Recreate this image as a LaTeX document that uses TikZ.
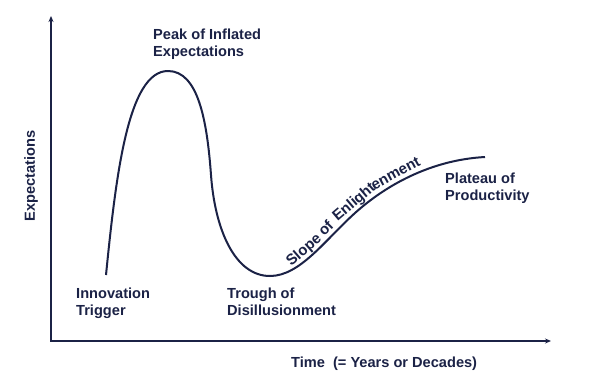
\documentclass[tikz,border=0pt]{standalone}
\usepackage{fontspec}
\setmainfont{Liberation Sans}
\usetikzlibrary{arrows.meta}
\definecolor{navy}{HTML}{1B2246}
\begin{document}
\begin{tikzpicture}[x=1pt,y=-1pt,
  lbl/.style={font=\fontsize{14.6}{17.5}\selectfont\bfseries, text=navy, inner sep=0pt, align=left, anchor=north west},
  slopelbl/.style={font=\fontsize{15}{17}\selectfont\bfseries, text=navy, sloped, anchor=south, inner xsep=0pt, inner ysep=1pt, text depth=3.3pt, text height=11pt},
  axis/.style={draw=navy, line width=1.8pt, {Stealth[length=6pt,width=5pt]}-{Stealth[length=6pt,width=5pt]}},
  curve/.style={draw=navy, line width=2pt}]
\useasboundingbox[fill=white] (0,0) rectangle (612,373);
\coordinate (O) at (51,341);
\coordinate (Ytop) at (51,16);
\coordinate (Xend) at (551,341);
\draw[axis] (Ytop) -- (O) -- (Xend);
\coordinate (start) at (106,275);
\coordinate (peak) at (168,71);
\coordinate (fall) at (211,175);
\coordinate (trough) at (270,276);
\coordinate (mid) at (355,213);
\coordinate (end) at (485,157);
\draw[curve] (start) .. controls (116,175) and (128,71) .. (peak)
  .. controls (198,71) and (207,120) .. (fall)
  .. controls (215,230) and (235,276) .. (trough)
  .. controls (300,276) and (325,240) .. (mid)
  .. controls (385,186) and (430,160) .. (end);
\path (trough) .. controls (300,276) and (325,240) .. (mid)
  node[slopelbl, pos=0.467] (s1) {Slope}
  node[slopelbl, pos=0.742] (s2) {of};
\path (mid) .. controls (385,186) and (430,160) .. (end)
  node[slopelbl, pos=0.052] (s3) {Enlight}
  node[slopelbl, pos=0.416] (s4) {enment};
\node[lbl] (peaklbl) at (153,28.5) {Peak of Inflated\\Expectations};
\node[lbl] (innov) at (76,287.5) {Innovation\\Trigger};
\node[lbl] (troughlbl) at (227,287.5) {Trough of\\Disillusionment};
\node[lbl] (plat) at (445,172.5) {Plateau of\\Productivity};
\node[lbl, anchor=base west] (time) at (291,367) {Time\hspace{4pt} (= Years or Decades)};
\node[lbl, anchor=center, rotate=90] (ylbl) at (31,176) {Expectations};
\end{tikzpicture}
\end{document}
